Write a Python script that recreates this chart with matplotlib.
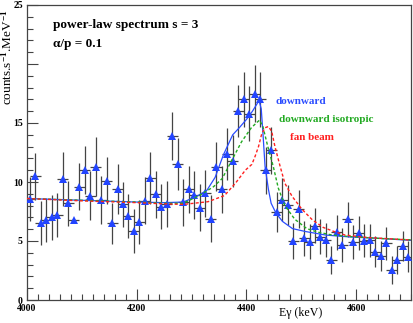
import numpy as np
import matplotlib
matplotlib.use('Agg')
from matplotlib import pyplot as plt
from matplotlib.ticker import MultipleLocator

# measured spectrum (10 keV bins)
energy = np.arange(4005, 4700, 10)
counts = [8.56, 10.5, 6.55, 6.78, 7.0, 7.2, 10.25, 8.19, 6.78, 9.6,
          11.0, 8.84, 11.3, 8.47, 10.1, 6.5, 9.4, 8.1, 7.12, 5.85,
          6.6, 8.42, 10.37, 8.96, 7.9, 8.13, 13.9, 11.5, 8.28, 9.38,
          8.9, 7.82, 9.04, 6.9, 11.3, 9.38, 12.37, 11.78, 16.0, 17.0,
          15.8, 17.5, 17.0, 11.0, 12.7, 7.43, 8.5, 8.05, 5.0, 7.69,
          5.22, 4.94, 6.3, 5.37, 5.08, 3.39, 5.74, 4.66, 6.84, 4.94,
          5.65, 5.03, 5.08, 4.1, 3.73, 4.8, 2.54, 3.39, 4.58, 3.67]
errors = [1.9, 2.0, 1.85, 1.9, 1.9, 1.9, 2.3, 1.9, 0.0, 2.0,
          2.05, 2.1, 2.5, 2.0, 2.0, 1.75, 2.1, 1.9, 1.85, 1.85,
          1.85, 2.0, 2.2, 2.0, 1.9, 1.95, 2.0, 2.2, 2.0, 2.0,
          2.0, 2.0, 2.0, 2.0, 2.1, 2.0, 2.2, 2.2, 2.2, 2.3,
          2.3, 2.4, 2.3, 2.0, 2.0, 1.7, 1.8, 1.7, 1.5, 1.6,
          1.5, 1.5, 1.5, 1.5, 1.45, 1.2, 1.5, 1.4, 1.5, 1.45,
          1.45, 1.4, 1.4, 1.3, 1.3, 1.4, 1.2, 1.2, 1.3, 1.3]

# model curves
down_e = [4000, 4100, 4200, 4250, 4285, 4310, 4328, 4343, 4358, 4375, 4387, 4400, 4411,
          4419, 4423, 4427, 4430, 4434, 4440, 4445, 4454, 4466, 4484, 4508, 4545, 4587,
          4650, 4700]
down_v = [8.6, 8.45, 8.3, 8.25, 8.3, 8.8, 9.3, 10.4, 12.3, 14.0, 14.6, 15.3, 16.0,
          16.6, 16.9, 16.2, 14.2, 11.3, 9.4, 8.2, 7.35, 6.65, 6.05, 5.8, 5.5, 5.35,
          5.2, 5.05]
iso_e = [4000, 4100, 4200, 4250, 4285, 4316, 4340, 4356, 4374, 4391, 4409, 4418, 4424,
         4430, 4439, 4449, 4458, 4470, 4488, 4510, 4530, 4557, 4590, 4650, 4700]
iso_v = [8.6, 8.45, 8.3, 8.2, 8.2, 8.9, 9.6, 10.3, 11.9, 13.4, 14.6, 15.0, 15.25,
         14.7, 13.0, 11.3, 9.5, 8.0, 6.85, 6.05, 5.75, 5.5, 5.37, 5.2, 5.1]
fan_e = [4000, 4100, 4200, 4250, 4285, 4330, 4360, 4380, 4398, 4410, 4416, 4422, 4428,
         4434, 4440, 4446, 4452, 4461, 4470, 4483, 4501, 4520, 4540, 4560, 4580, 4620, 4700]
fan_v = [8.6, 8.4, 8.25, 8.15, 8.1, 8.33, 8.85, 9.9, 11.0, 11.5, 12.2, 13.0, 14.1,
         14.6, 14.7, 14.3, 13.0, 11.4, 9.9, 8.8, 7.7, 6.8, 6.15, 5.8, 5.5, 5.3, 5.08]

plt.rcParams['font.family'] = ['Liberation Serif', 'DejaVu Serif']
plt.rcParams['font.weight'] = 'bold'
plt.rcParams['mathtext.fontset'] = 'custom'
plt.rcParams['mathtext.rm'] = 'Liberation Serif:bold'
plt.rcParams['mathtext.default'] = 'rm'

fig = plt.figure(figsize=(4.14, 3.23), dpi=100)
ax = fig.add_axes([27/414, 1-300/323, 384/414, 295/323])

ax.errorbar(energy, counts, yerr=errors, xerr=10, fmt='none', ecolor='#444444',
            elinewidth=0.9, capsize=0, zorder=2)
ax.plot(energy, counts, '^', color='#2244ff', markersize=6, markeredgewidth=0, zorder=3)

ax.plot(down_e, down_v, '-', color='#2a4cff', lw=0.9, zorder=4)
ax.plot(iso_e, iso_v, '--', color='#22aa22', lw=1.0, dashes=(2.2, 1.6), zorder=4)
ax.plot(fan_e, fan_v, '--', color='#ff2020', lw=1.0, dashes=(2.2, 1.6), zorder=4)

ax.set_xlim(4000, 4700)
ax.set_ylim(0, 25)
ax.xaxis.set_major_locator(MultipleLocator(200))
ax.xaxis.set_minor_locator(MultipleLocator(20))
ax.set_yticks([0, 5, 10, 15, 20, 25])
ax.set_yticklabels(['0', '5', '10', '15', '', '25'])
ax.yaxis.set_minor_locator(MultipleLocator(1))
ax.tick_params(which='both', direction='in', top=False, right=False, labelsize=7,
               color='#444444')
ax.tick_params(which='major', length=8, width=0.8, pad=3)
ax.tick_params(which='minor', length=4, width=0.8)
for s in ax.spines.values():
    s.set_color('#444444')
    s.set_linewidth(0.9)

fig.text(322/414, 1-313/323, 'Eγ (keV)', fontsize=8.6, fontweight='normal',
         ha='right', va='center')
ax.set_ylabel('counts.s$^{-1}$.MeV$^{-1}$', fontsize=9.5, loc='top')
ax.yaxis.set_label_coords(-0.033, 0.985)

ax.text(0.068, 0.932, 'power-law spectrum s = 3', transform=ax.transAxes, fontsize=9.5,
        ha='left', va='center')
ax.text(0.068, 0.869, 'α/p = 0.1', transform=ax.transAxes, fontsize=9.5,
        ha='left', va='center')
ax.text(0.646, 0.672, 'downward', transform=ax.transAxes, fontsize=8,
        color='#2a4cff', ha='left', va='center')
ax.text(0.656, 0.611, 'downward isotropic', transform=ax.transAxes, fontsize=8,
        color='#22aa22', ha='left', va='center')
ax.text(0.685, 0.550, 'fan beam', transform=ax.transAxes, fontsize=8,
        color='#ff2020', ha='left', va='center')

plt.savefig('out.png', dpi=100)
